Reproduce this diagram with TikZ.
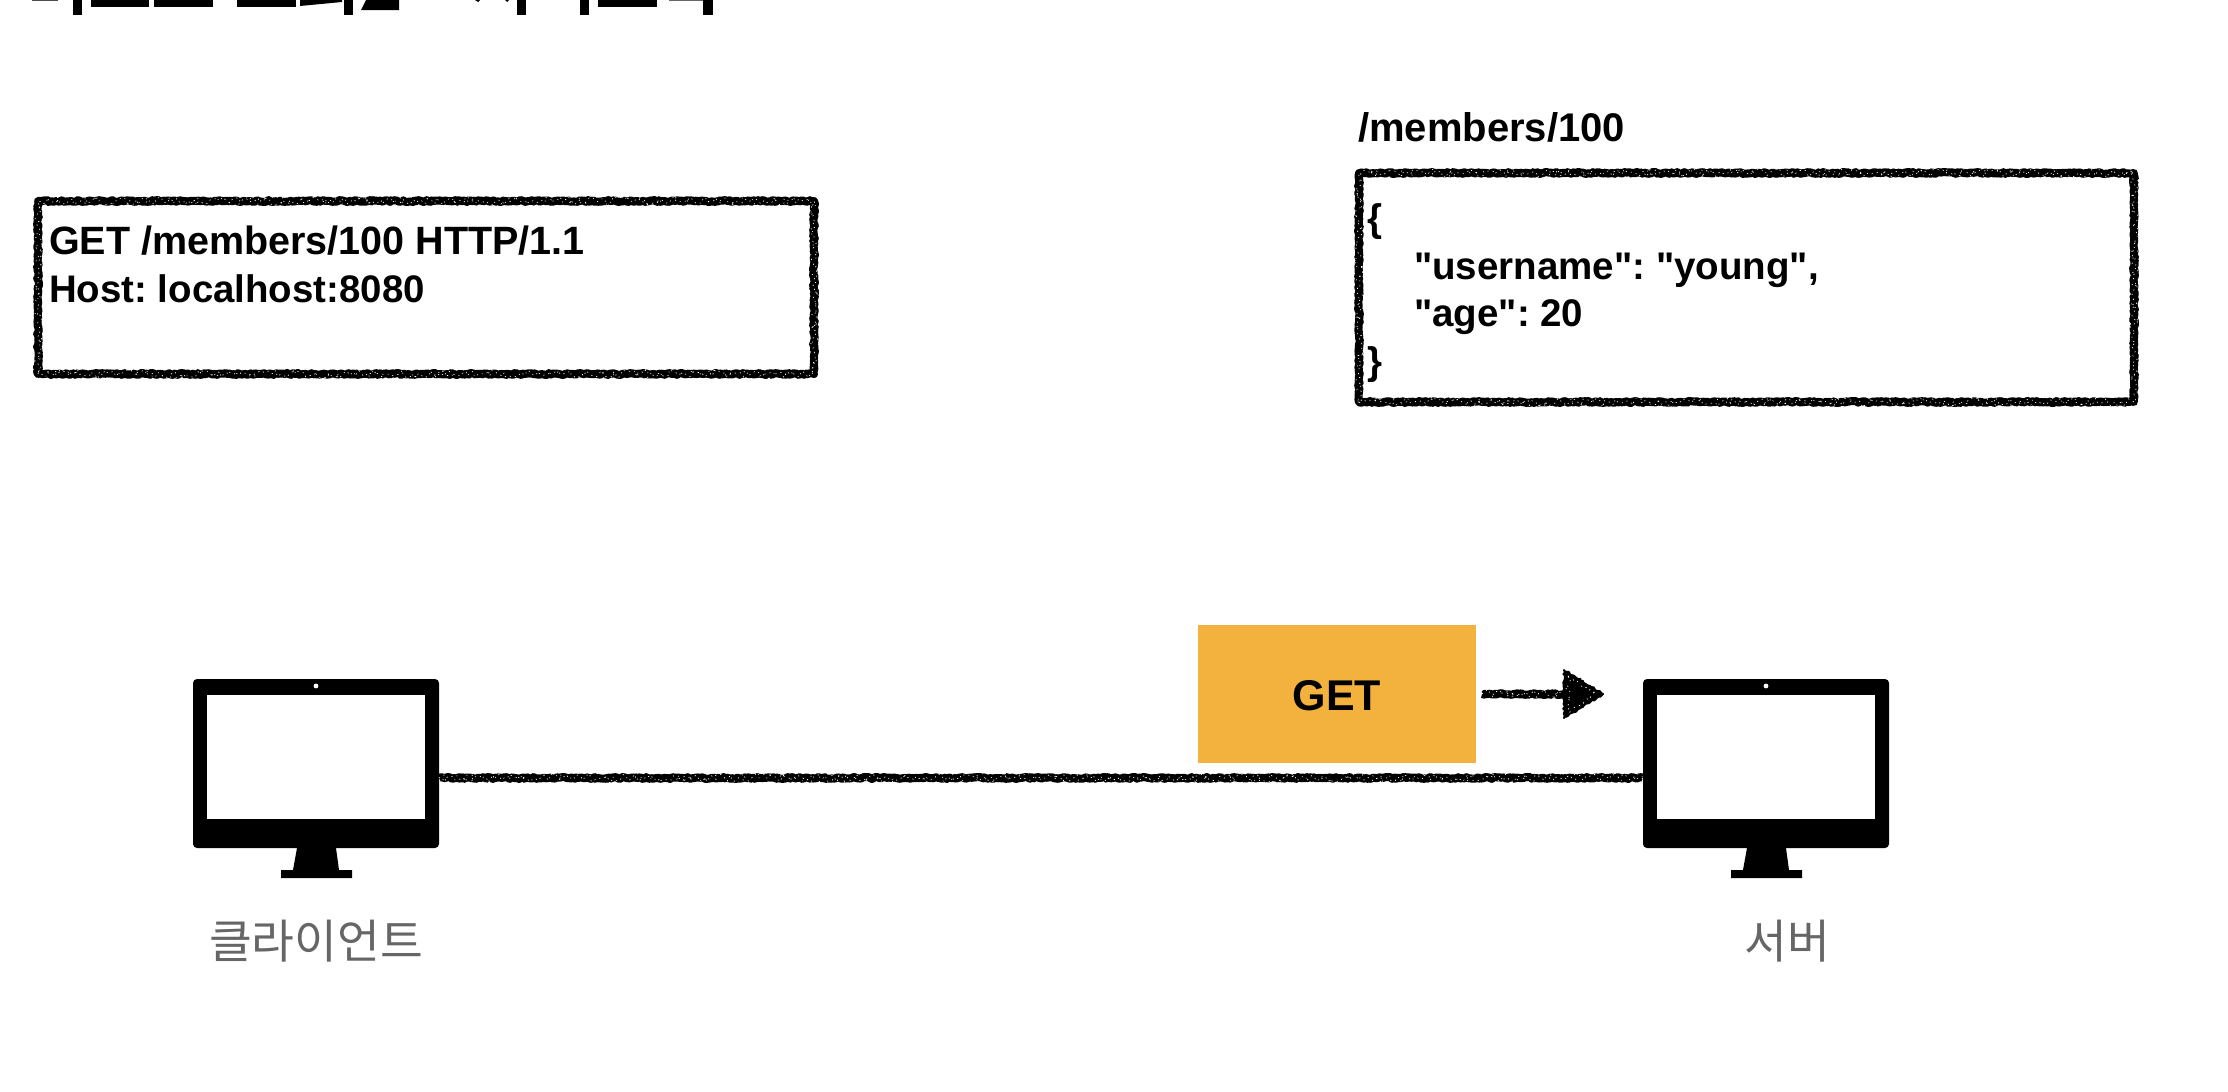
\documentclass[tikz,border=0pt]{standalone}
\usepackage{fontspec}
\setmainfont{Liberation Sans}
\newfontfamily\codefont{Liberation Sans}
\newfontfamily\krfont{Noto Sans CJK KR}
\usetikzlibrary{decorations.pathmorphing,calc}
\definecolor{getorange}{HTML}{F3B23E}
\tikzset{
  % Rough crayon stroke: a jagged black line with fine white grain on top
  chalk/.style={
    postaction={draw=black,line width=8pt,line join=round,decorate,
      decoration={random steps,segment length=1.8pt,amplitude=1pt}},
    postaction={draw=white,line width=.6pt,line join=round,dash pattern=on 1.2pt off 4pt,decorate,
      decoration={random steps,segment length=2.5pt,amplitude=4pt}}},
  chalkbox/.style={chalk,rectangle,inner sep=0pt,outer sep=0pt},
  codetext/.style={anchor=base west,inner sep=0pt,
    font=\codefont\bfseries\frenchspacing\fontsize{#1}{44}\selectfont},
  codetext/.default=38.5,
  bezel/.style={rectangle,fill=black,rounded corners=4pt,inner sep=0pt,outer sep=0pt,
    minimum width=246pt,minimum height=169pt},
  panel/.style={rectangle,fill=white,inner sep=0pt,outer sep=0pt,
    minimum width=218pt,minimum height=124pt},
  caption/.style={inner sep=0pt,text=black!60,font=\krfont\fontsize{46.5}{52}\selectfont},
}
% A desktop monitor: stand first, then bezel, screen and camera dot
\newcommand{\monitor}[2]{%
  \fill[black] (#2-19,848) -- (#2+20,848) -- (#2+23,870) -- (#2+36,870) -- (#2+36,878)
     -- (#2-35,878) -- (#2-35,870) -- (#2-23,870) -- cycle;
  \node[bezel] (#1) at (#2,763.5) {};
  \node[panel] (#1screen) at (#2,757) {};
  \fill[white] (#2,686) circle (2.4);
}
\begin{document}
\begin{tikzpicture}[x=1pt,y=-1pt]
\useasboundingbox (0,0) rectangle (2228,1092);
\fill[white] (0,0) rectangle (2228,1092);
\pgfmathsetseed{4242}

% Lower edge of the heading strip along the top
\fill[black!70] (32,0) rectangle (58,1);
\fill (73,0) rectangle (82,15);
\fill (91,0) rectangle (149,7);
\fill (154,0) rectangle (213,7);
\fill (237,0) rectangle (296,7);
\fill (300,0) -- (342,0) -- (342,2) -- (300,6) -- cycle;
\fill (344,0) rectangle (353,15);
\fill (366,0) -- (399,0) -- (399,10) -- (361,10) -- cycle;
\fill (475,0) -- (480,0) -- (478,2) -- cycle;
\fill (505,0) -- (509,0) -- (507,2) -- cycle;
\fill (517,0) rectangle (526,15);
\fill (580,0) rectangle (589,15);
\fill (598,0) rectangle (657,7);
\fill[black!60] (669,0) rectangle (703,1);
\fill (703,0) rectangle (713,15);

% Request message
\node[chalkbox,minimum width=776pt,minimum height=173pt] (request) at (426,287.5) {};
\node[codetext=39.5] (reqline) at (49,254) {GET /members/100 HTTP/1.1};
\node[codetext=38.4] (hostline) at (49,302) {Host: localhost:8080};

% Resource on the server
\node[codetext=40] (path) at (1358,141) {/members/100};
\node[chalkbox,minimum width=775pt,minimum height=229pt] (resource) at (1746.5,287.5) {};
\node[codetext] (jopen) at (1367,231) {\{};
\node[codetext] (juser) at (1414,279) {"username": "young",};
\node[codetext] (jage) at (1414,326) {"age": 20};
\node[codetext] (jclose) at (1367,374) {\}};

% Client and server machines
\monitor{client}{316}
\monitor{server}{1766}
\node[caption] (clientlabel) at (316,941.5) {클라이언트};
\node[caption] (serverlabel) at (1787,941.5) {서버};

% Link between the machines, with the message travelling along it
\path[chalk] ([yshift=-14.5pt]client.east) -- ([yshift=-14.5pt]server.west);
\node[rectangle,fill=getorange,inner sep=0pt,outer sep=0pt,minimum width=278pt,minimum height=138pt] (getbox) at (1337,694) {};
\node[anchor=base,inner sep=0pt,font=\codefont\bfseries\fontsize{43}{48}\selectfont] (gettext) at (1337,710) {GET};
\coordinate (headbase) at (1566,694);
\path[chalk] ([xshift=6pt]getbox.east) -- (headbase);
\fill[black] (1564,670) -- (1603,694) -- (1564,718) -- cycle;
\draw[black,line width=2pt,line join=round,decorate,decoration={random steps,segment length=2pt,amplitude=1pt}]
  (1564,670) -- (1603,694) -- (1564,718) -- cycle;
\draw[white,line width=.7pt,line join=round,dash pattern=on 1.2pt off 5pt,decorate,decoration={random steps,segment length=2.5pt,amplitude=2.5pt}]
  (1568,676) -- (1596,694) -- (1568,712) -- cycle;
\end{tikzpicture}
\end{document}
